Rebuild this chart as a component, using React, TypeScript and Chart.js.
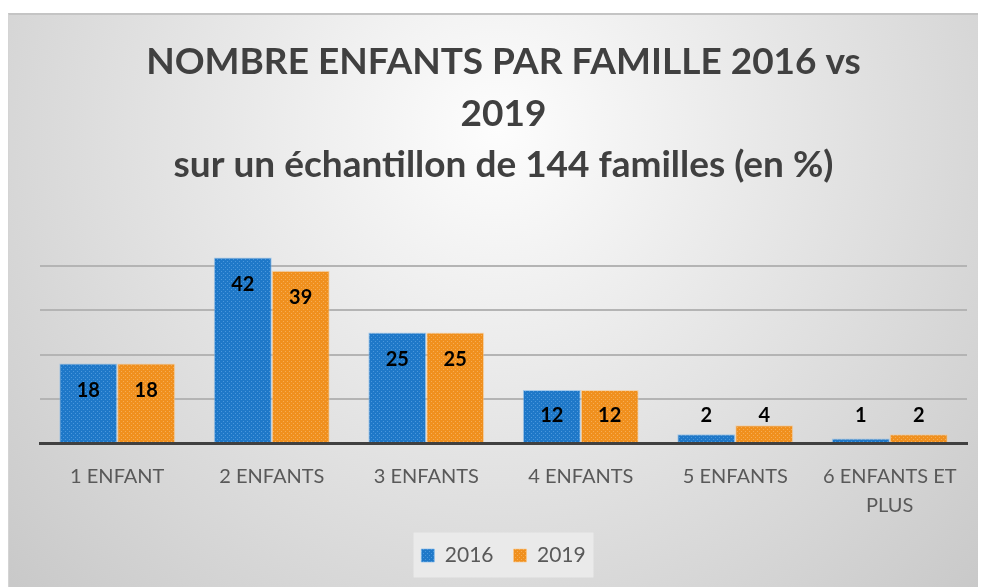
import React, { useEffect, useRef } from "react";
import { Chart, registerables } from "chart.js";

Chart.register(...registerables);

const categories: (string | string[])[] = [
  "1 ENFANT",
  "2 ENFANTS",
  "3 ENFANTS",
  "4 ENFANTS",
  "5 ENFANTS",
  ["6 ENFANTS ET", "PLUS"],
];
const values2016 = [18, 42, 25, 12, 2, 1];
const values2019 = [18, 39, 25, 12, 4, 2];
const titleLines = [
  "NOMBRE ENFANTS PAR FAMILLE 2016 vs",
  "2019",
  "sur un échantillon de 144 familles (en %)",
];
const seriesNames = ["2016", "2019"];

const BLUE = "#1f78c8";
const ORANGE = "#f0901e";
const FONT = "Lato, 'Open Sans', sans-serif";

function makePattern(base: string, dot: string): CanvasPattern | string {
  const c = document.createElement("canvas");
  c.width = 4;
  c.height = 4;
  const g = c.getContext("2d");
  if (!g) return base;
  g.fillStyle = base;
  g.fillRect(0, 0, 4, 4);
  g.fillStyle = dot;
  g.fillRect(0, 0, 1, 1);
  g.fillRect(2, 2, 1, 1);
  const p = g.createPattern(c, "repeat");
  return p || base;
}

const backgroundPlugin = {
  id: "bgPlugin",
  beforeDraw(chart: any) {
    const { ctx, width, height } = chart;
    ctx.save();
    const grad = ctx.createRadialGradient(width * 0.5, height * 0.2, 0, width * 0.5, height * 0.2, width * 0.68);
    grad.addColorStop(0, "#fdfdfd");
    grad.addColorStop(1, "#c9c9c9");
    ctx.fillStyle = grad;
    ctx.fillRect(0, 0, width, height);
    const lg = chart.legend;
    if (lg) {
      ctx.fillStyle = "rgba(235,235,235,0.9)";
      const w = 180;
      const cx = lg.left + lg.width / 2;
      const cy = lg.top + lg.height / 2 + 4;
      ctx.fillRect(cx - w / 2, cy - 22, w, 45);
    }
    ctx.restore();
  },
};

const labelPlugin = {
  id: "barLabels",
  afterDatasetsDraw(chart: any) {
    const { ctx } = chart;
    const base = chart.scales.y.getPixelForValue(0);
    ctx.save();
    ctx.font = `bold 20px ${FONT}`;
    ctx.fillStyle = "#000000";
    ctx.textAlign = "center";
    ctx.textBaseline = "middle";
    chart.data.datasets.forEach((ds: any, i: number) => {
      const meta = chart.getDatasetMeta(i);
      meta.data.forEach((bar: any, j: number) => {
        const y = Math.min(bar.y + 27, base - 27);
        ctx.fillText(String(ds.data[j]), bar.x, y);
      });
    });
    ctx.restore();
  },
};

export default function App() {
  const ref = useRef<HTMLCanvasElement>(null);
  useEffect(() => {
    if (!ref.current) return;
    const chart = new Chart(ref.current, {
      type: "bar",
      data: {
        labels: categories,
        datasets: [
          {
            label: seriesNames[0],
            data: values2016,
            backgroundColor: makePattern(BLUE, "#4a97dc") as any,
            borderColor: "rgba(120,180,235,0.6)",
            borderWidth: 1,
            categoryPercentage: 0.75,
            barPercentage: 1.0,
          },
          {
            label: seriesNames[1],
            data: values2019,
            backgroundColor: makePattern(ORANGE, "#f6ad55") as any,
            borderColor: "rgba(250,200,140,0.6)",
            borderWidth: 1,
            categoryPercentage: 0.75,
            barPercentage: 1.0,
          },
        ],
      },
      options: {
        animation: false,
        responsive: true,
        maintainAspectRatio: false,
        layout: { padding: { left: 31, right: 19, top: 0, bottom: 11 } },
        plugins: {
          title: {
            display: true,
            text: titleLines,
            color: "#404040",
            font: { family: FONT, size: 37, weight: "bold", lineHeight: 1.38 },
            padding: { top: 22, bottom: 54 },
          },
          legend: {
            display: true,
            position: "bottom",
            labels: {
              color: "#595959",
              font: { family: FONT, size: 21 },
              boxWidth: 13,
              boxHeight: 13,
              padding: 20,
            },
          },
          tooltip: { enabled: false },
        },
        scales: {
          x: {
            grid: { display: false },
            border: { display: true, color: "#404040", width: 3 },
            ticks: {
              color: "#595959",
              font: { family: FONT, size: 20, lineHeight: 1.45 },
              padding: 11,
              maxRotation: 0,
            },
            afterFit: (scale: any) => {
              scale.height = scale.height - 6;
            },
          },
          y: {
            min: 0,
            max: 45,
            ticks: { display: false, stepSize: 10 },
            border: { display: false },
            grid: {
              drawTicks: false,
              lineWidth: 2,
              color: (c: any) =>
                c.tick && c.tick.value > 0 && c.tick.value % 10 === 0 ? "#b4b4b4" : "rgba(0,0,0,0)",
            },
          },
        },
      },
      plugins: [backgroundPlugin, labelPlugin],
    });
    return () => chart.destroy();
  }, []);
  return (
    <div
      style={{
        position: "relative",
        marginTop: 5,
        width: 978,
        height: 574,
        borderTop: "2px solid #c4c4c4",
        borderLeft: "1px solid #d4d4d4",
        boxSizing: "border-box",
      }}
    >
      <canvas ref={ref} />
    </div>
  );
}
